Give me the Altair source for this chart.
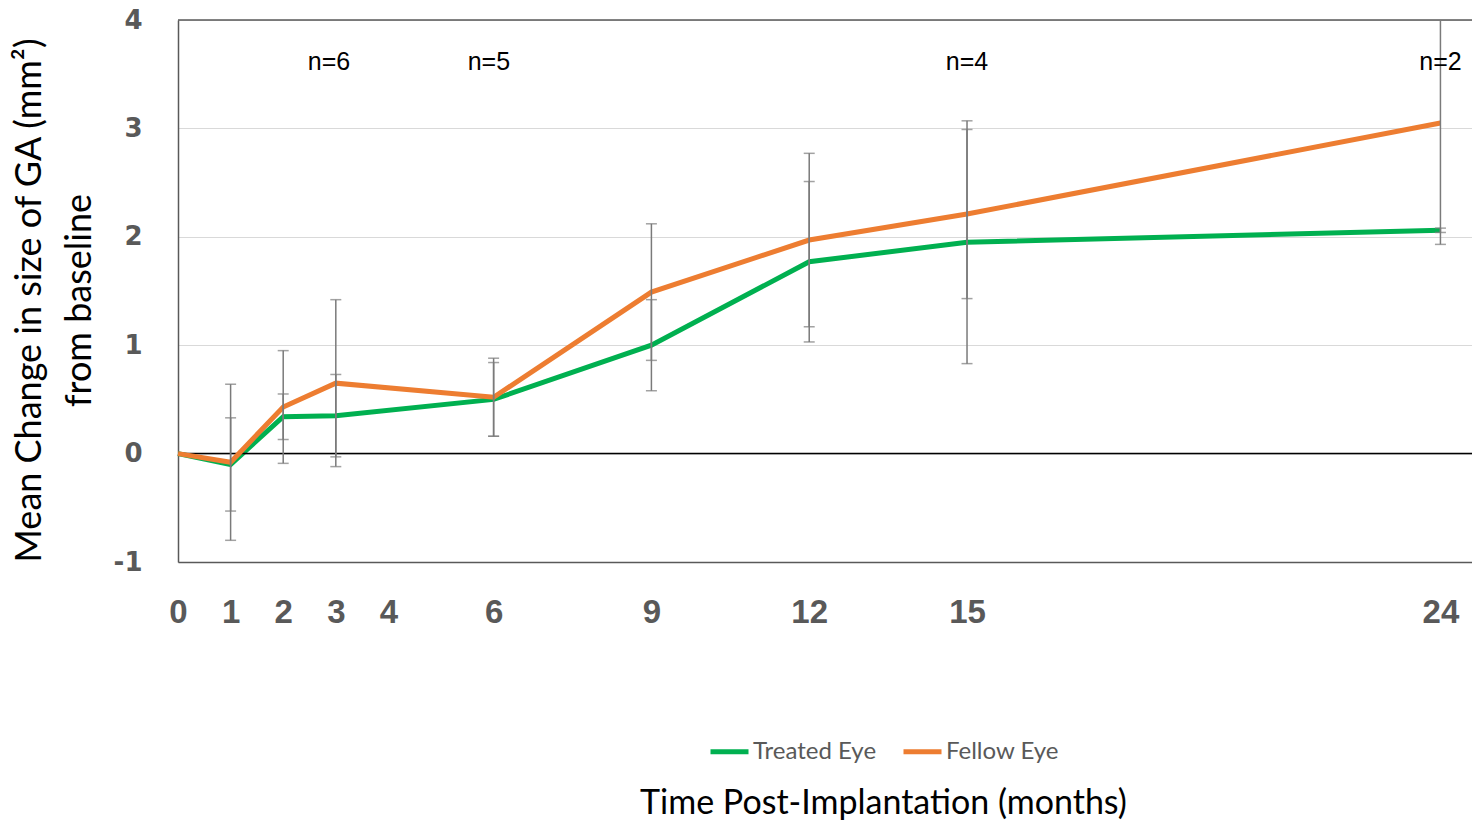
import altair as alt
import pandas as pd

# ---- data ----
months = [0, 1, 2, 3, 6, 9, 12, 15, 24]
treated = [0.00, -0.10, 0.34, 0.35, 0.50, 1.00, 1.77, 1.95, 2.06]
fellow = [0.00, -0.08, 0.43, 0.65, 0.52, 1.49, 1.97, 2.21, 3.05]
treated_err = [0.0, 0.43, 0.21, 0.38, 0.34, 0.42, 0.74, 1.12, 0.02]
fellow_err = [0.0, 0.72, 0.52, 0.77, 0.36, 0.63, 0.80, 0.78, 1.12]
series_names = ["Treated Eye", "Fellow Eye"]
series_colors = ["#00B050", "#ED7D31"]

x_ticks = [0, 1, 2, 3, 4, 6, 9, 12, 15, 24]
y_ticks = [-1, 0, 1, 2, 3, 4]

n_months = [2.87, 5.91, 15, 24]
n_texts = ["n=6", "n=5", "n=4", "n=2"]
n_level = [3.61, 3.61, 3.61, 3.61]

rows = []
for name, vals, errs in [("Treated Eye", treated, treated_err), ("Fellow Eye", fellow, fellow_err)]:
    for m, v, e in zip(months, vals, errs):
        rows.append(dict(series=name, month=m, value=v, err=e, lo=v - e, hi=v + e))
df = pd.DataFrame(rows)
ndf = pd.DataFrame(dict(month=n_months, level=n_level, label=n_texts))

TFONT = "Lato"

xscale = alt.Scale(domain=[0, 24.6], nice=False, zero=False)
yscale = alt.Scale(domain=[-1, 4], nice=False)

x_enc = alt.X(
    "month:Q", scale=xscale,
    axis=alt.Axis(
        values=x_ticks, title="Time Post-Implantation (months)", grid=False,
        ticks=False, labelFont="Liberation Sans", labelFontWeight="bold",
        labelFontSize=33, labelColor="#595959", labelPadding=34, labelFlush=False,
        domainColor="#595959", domainWidth=1.5, labelExpr="'' + datum.value",
        titleFont=TFONT, titleFontSize=34, titleFontWeight="normal",
        titleColor="#000000", titleX=705, titleY=241,
        titleAlign="center", titleBaseline="middle", titleAnchor="start",
    ),
)
y_enc = alt.Y(
    "value:Q", scale=yscale,
    axis=alt.Axis(
        values=y_ticks, title=["Mean Change in size of GA (mm²)", "from baseline"],
        grid=True, gridColor="#D9D9D9", gridWidth=1, ticks=False,
        labelExpr="'' + datum.value",
        labelFont="DejaVu Sans", labelFontWeight="bold", labelFontSize=26,
        labelColor="#595959", labelPadding=36,
        domainColor="#595959", domainWidth=1.5,
        titleFont=TFONT, titleFontSize=36, titleFontWeight="normal",
        titleColor="#000000", titleX=-149, titleY=280, titleAngle=270,
        titleAlign="center", titleBaseline="middle", titleLineHeight=50,
        titleAnchor="start",
    ),
)

color_enc = alt.Color(
    "series:N",
    scale=alt.Scale(domain=series_names, range=series_colors),
    legend=alt.Legend(
        title=None, orient="none", legendX=530, legendY=710, direction="horizontal",
        symbolType="stroke", symbolStrokeWidth=5, symbolSize=1444,
        labelFont=TFONT, labelFontSize=24, labelColor="#595959",
        labelOffset=2, columnPadding=16, symbolOffset=0,
    ),
)

base = alt.Chart(df)

green_line = base.transform_filter(alt.datum.series == "Treated Eye").mark_line(
    strokeWidth=5
).encode(x=x_enc, y=y_enc, color=color_enc)
orange_line = base.transform_filter(alt.datum.series == "Fellow Eye").mark_line(
    strokeWidth=5
).encode(x="month:Q", y="value:Q", color=alt.Color("series:N", scale=alt.Scale(domain=series_names, range=series_colors)))

eb = base.transform_filter(alt.datum.err > 0)
err_rule = eb.mark_rule(color="#7A7A7A", strokeWidth=1.5, clip=True).encode(
    x="month:Q", y="lo:Q", y2="hi:Q"
)
cap_lo = eb.mark_tick(color="#7A7A7A", thickness=1.5, size=11, orient="horizontal", clip=True).encode(
    x="month:Q", y="lo:Q"
)
cap_hi = eb.mark_tick(color="#7A7A7A", thickness=1.5, size=11, orient="horizontal", clip=True).encode(
    x="month:Q", y="hi:Q"
)

zero_rule = alt.Chart(pd.DataFrame({"v": [0]})).mark_rule(color="#000000", strokeWidth=1.5).encode(
    y="v:Q"
)
top_rule = alt.Chart(pd.DataFrame({"v": [4]})).mark_rule(color="#595959", strokeWidth=1.5).encode(
    y="v:Q"
)

n_text = alt.Chart(ndf).mark_text(
    font="Liberation Sans", fontSize=25, color="#000000", align="center", baseline="middle"
).encode(x="month:Q", y="level:Q", text="label:N")

chart = alt.layer(
    green_line, zero_rule, top_rule, orange_line, err_rule, cap_lo, cap_hi, n_text
).properties(
    width=1294, height=542,
    autosize=alt.AutoSizeParams(type="none"),
    padding={"left": 170, "top": 12, "right": 0, "bottom": 262},
).configure_view(stroke=None).configure(background="white")

chart.save("out.html", embed_options={"renderer": "svg", "actions": False})
